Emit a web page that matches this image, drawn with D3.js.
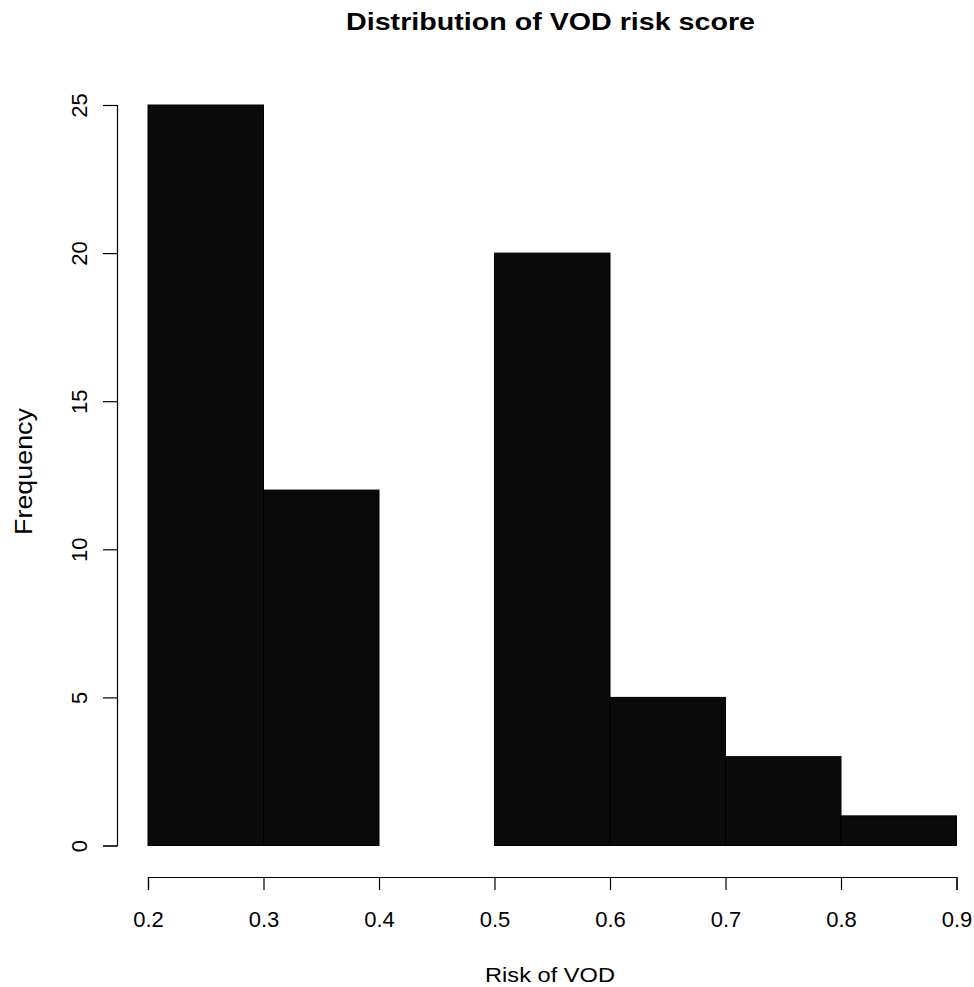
<!DOCTYPE html>
<html>
<head>
<meta charset="utf-8">
<script src="https://cdn.jsdelivr.net/npm/d3@7"></script>
<style>
  body { margin: 0; background: #fff; }
  text { font-family: "Liberation Sans", Arial, sans-serif; fill: #000; }
</style>
</head>
<body>
<svg id="chart" width="974" height="987"></svg>
<script>
const binStarts = [0.2, 0.3, 0.4, 0.5, 0.6, 0.7, 0.8];
const binWidth = 0.1;
const frequencies = [25, 12, 0, 20, 5, 3, 1];
const xTicks = [0.2, 0.3, 0.4, 0.5, 0.6, 0.7, 0.8, 0.9];
const yTicks = [0, 5, 10, 15, 20, 25];
const title = "Distribution of VOD risk score";
const xTitle = "Risk of VOD";
const yTitle = "Frequency";

const svg = d3.select("#chart");
const x = d3.scaleLinear().domain([0.2, 0.9]).range([148, 956.5]);
const y = d3.scaleLinear().domain([0, 25]).range([845.5, 105]);

svg.append("g").selectAll("rect").data(binStarts).join("rect")
  .attr("x", (d) => x(d))
  .attr("y", (d, i) => y(frequencies[i]))
  .attr("width", (d) => x(d + binWidth) - x(d))
  .attr("height", (d, i) => y(0) - y(frequencies[i]))
  .attr("fill", "#0a0a0a")
  .attr("stroke", "#000")
  .attr("stroke-width", 1);

const xAxis = svg.append("g").attr("transform", "translate(0,877)")
  .call(d3.axisBottom(x).tickValues(xTicks).tickFormat(d3.format(".1f")).tickSize(13));
const yAxis = svg.append("g").attr("transform", "translate(117,0)")
  .call(d3.axisLeft(y).tickValues(yTicks).tickSize(14));

[xAxis, yAxis].forEach(g => {
  g.select(".domain").attr("stroke", "#000").attr("stroke-width", 1.2);
  g.selectAll(".tick line").attr("stroke", "#000").attr("stroke-width", 1.2);
  g.selectAll("text").attr("font-size", 22).attr("font-family", "Liberation Sans, Arial, sans-serif").attr("fill", "#111");
});
xAxis.selectAll(".tick text").attr("y", 50).attr("dy", null);
yAxis.selectAll(".tick text")
  .attr("text-anchor", "middle")
  .attr("dy", null)
  .attr("x", 0)
  .attr("transform", "translate(-30,0) rotate(-90)");

// Text stretched along its reading direction to match the reference's wide glyphs
function stretchedLabel(cx, cy, angle, size, weight, targetLen, str) {
  const g = svg.append("g").attr("transform", `translate(${cx},${cy}) rotate(${angle})`);
  const t = g.append("text").attr("text-anchor", "middle")
    .attr("font-size", size).attr("font-weight", weight).attr("fill", "#111").text(str);
  const len = t.node().getComputedTextLength();
  t.attr("transform", `scale(${targetLen / len},1)`);
  return t;
}
stretchedLabel(550.5, 30, 0, 23, "bold", 409, title);
stretchedLabel(550, 982, 0, 21, "normal", 130, xTitle);
stretchedLabel(32, 471.5, -90, 23, "normal", 127, yTitle);
</script>
</body>
</html>
